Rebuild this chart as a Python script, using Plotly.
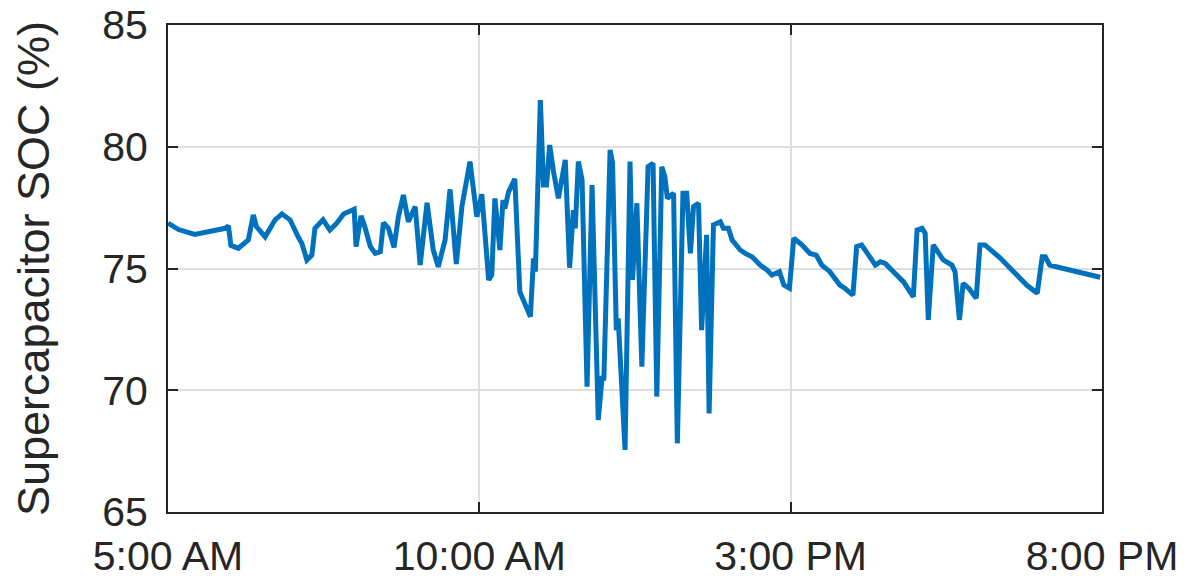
import plotly.graph_objects as go

# Time of day (decimal hours)
hours = [5.00, 5.17, 5.43, 5.92, 5.97, 6.01, 6.13, 6.24, 6.29, 6.37, 6.42, 6.56, 6.72, 6.83, 6.96,
         7.09, 7.15, 7.23, 7.31, 7.36, 7.49, 7.60, 7.71, 7.82, 7.92, 7.99, 8.02, 8.10, 8.16, 8.25,
         8.33, 8.41, 8.46, 8.54, 8.63, 8.70, 8.78, 8.86, 8.97, 9.05, 9.16, 9.26, 9.34, 9.45, 9.53,
         9.63, 9.72, 9.85, 9.96, 10.04, 10.15, 10.20, 10.25, 10.33, 10.38, 10.41, 10.47, 10.57, 10.65,
         10.82, 10.87, 10.90, 10.98, 11.03, 11.08, 11.13, 11.19, 11.27, 11.38, 11.45, 11.51, 11.54,
         11.59, 11.65, 11.73, 11.81, 11.91, 11.97, 12.00, 12.10, 12.14, 12.20, 12.23, 12.34, 12.42,
         12.46, 12.53, 12.61, 12.71, 12.79, 12.85, 12.93, 12.98, 13.02, 13.12, 13.18, 13.27, 13.33,
         13.39, 13.44, 13.52, 13.57, 13.65, 13.69, 13.76, 13.87, 13.92, 14.00, 14.06, 14.19, 14.27,
         14.38, 14.51, 14.62, 14.70, 14.82, 14.89, 14.98, 15.05, 15.18, 15.31, 15.41, 15.50, 15.63,
         15.79, 15.87, 16.00, 16.06, 16.14, 16.25, 16.36, 16.44, 16.52, 16.65, 16.81, 16.97, 17.03,
         17.11, 17.16, 17.21, 17.29, 17.45, 17.59, 17.64, 17.71, 17.77, 17.86, 17.98, 18.04, 18.12,
         18.37, 18.58, 18.79, 18.96, 19.04, 19.09, 19.16, 19.38, 19.60, 19.76, 19.86, 19.97]

# Supercapacitor state of charge (%)
soc = [76.86, 76.60, 76.40, 76.65, 76.75, 75.95, 75.83, 76.10, 76.17, 77.20, 76.72, 76.30, 77.00, 77.24, 77.00,
       76.30, 76.03, 75.35, 75.55, 76.65, 77.00, 76.58, 76.86, 77.24, 77.33, 77.43, 75.90, 77.16, 76.72, 75.90,
       75.62, 75.69, 76.88, 76.65, 75.87, 77.13, 78.02, 76.92, 77.54, 75.14, 77.70, 75.76, 75.07, 76.17, 78.25,
       75.18, 77.54, 79.39, 77.13, 78.05, 74.53, 74.73, 77.88, 75.76, 77.81, 77.47, 78.15, 78.68, 74.05,
       73.02, 75.42, 74.87, 81.92, 78.43, 78.43, 80.07, 79.00, 77.88, 79.46, 75.03, 77.40, 76.65,
       79.39, 78.64, 70.15, 78.43, 68.78, 70.49, 70.49, 79.87, 79.32, 72.47, 72.95, 67.55, 79.39,
       74.53, 77.68, 70.97, 79.18, 79.32, 69.74, 79.18, 78.77, 77.88, 78.09, 67.82, 78.09, 78.09,
       75.62, 77.54, 77.68, 72.47, 76.38, 69.05, 76.79, 76.92, 76.65, 76.65, 76.17, 75.76, 75.62,
       75.48, 75.14, 74.94, 74.73, 74.87, 74.32, 74.19, 76.24, 75.97, 75.62, 75.55, 75.14, 74.87,
       74.32, 74.19, 73.91, 75.90, 75.97, 75.55, 75.14, 75.28, 75.21, 74.87, 74.46, 73.84, 76.58,
       76.65, 76.45, 72.89, 75.97, 75.35, 75.14, 74.87, 72.89, 74.39, 74.19, 73.78, 75.97, 75.97,
       75.42, 74.87, 74.32, 73.98, 75.48, 75.48, 75.14, 75.00, 74.87, 74.73, 74.69, 74.64]

x_tick_vals = [5, 10, 15, 20]
x_tick_text = ["5:00 AM", "10:00 AM", "3:00 PM", "8:00 PM"]
y_tick_vals = [65, 70, 75, 80, 85]

FONT = "Liberation Sans, Arial, sans-serif"

fig = go.Figure()
fig.add_trace(go.Scatter(
    x=hours, y=soc, mode="lines",
    line=dict(color="#0072BD", width=5, shape="linear"),
    showlegend=False,
))

axis_common = dict(
    showline=True, linecolor="#262626", linewidth=2, mirror="ticks",
    ticks="inside", ticklen=10, tickwidth=2, tickcolor="#262626",
    showgrid=True, gridcolor="#DEDEDE", gridwidth=1.5,
    zeroline=False, automargin=False, ticklabeloverflow="allow",
    tickfont=dict(family=FONT, size=41, color="#262626"),
)

fig.update_layout(
    width=1183, height=573,
    margin=dict(l=160, r=89, t=17, b=69),
    paper_bgcolor="white", plot_bgcolor="white",
    xaxis=dict(range=[5, 20], tickvals=x_tick_vals, ticktext=x_tick_text,
               ticklabelstandoff=7, **axis_common),
    yaxis=dict(range=[65, 85], tickvals=y_tick_vals, ticklabelstandoff=10,
               title=dict(text="Supercapacitor SOC (%)", standoff=40,
                          font=dict(family=FONT, size=45, color="#262626")),
               **axis_common),
)

fig.write_html("out.html")
